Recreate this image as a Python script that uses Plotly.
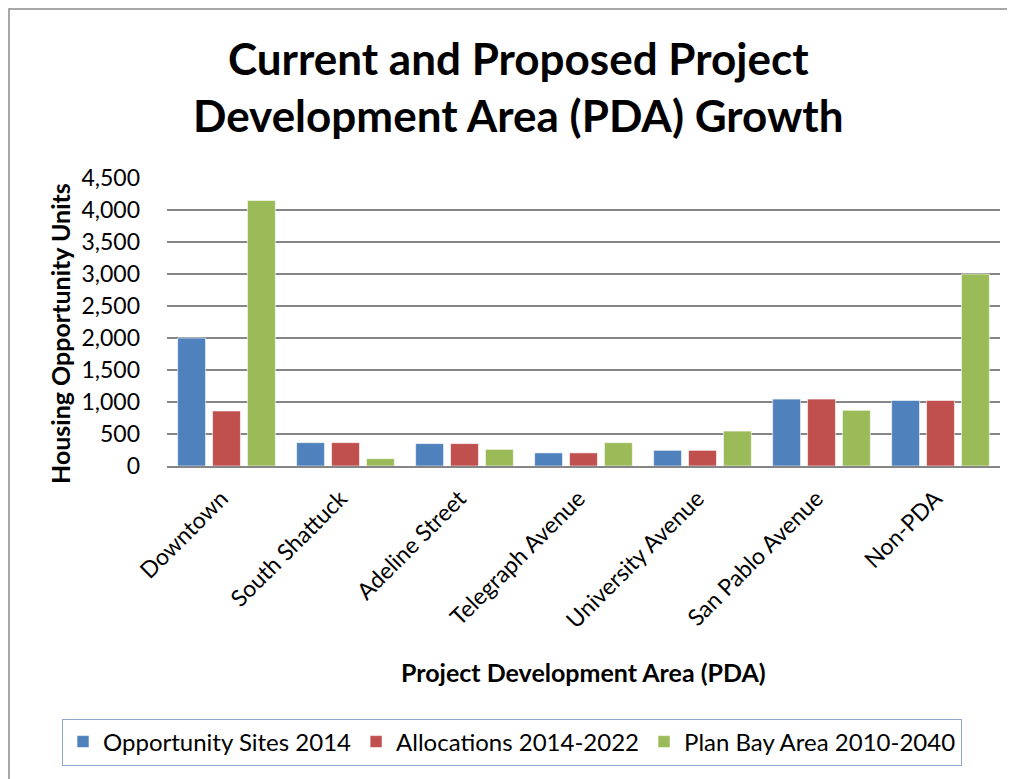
import plotly.graph_objects as go

categories = ["Downtown", "South Shattuck", "Adeline Street", "Telegraph Avenue",
              "University Avenue", "San Pablo Avenue", "Non-PDA"]
opportunity_sites_2014 = [2000, 365, 350, 205, 245, 1045, 1025]
allocations_2014_2022 = [860, 365, 350, 205, 245, 1045, 1025]
plan_bay_area_2010_2040 = [4150, 115, 260, 365, 545, 870, 3000]
series_names = ["Opportunity Sites 2014", "Allocations 2014-2022", "Plan Bay Area 2010-2040"]
y_ticks = [0, 500, 1000, 1500, 2000, 2500, 3000, 3500, 4000, 4500]

colors = ["#4F81BD", "#C0504D", "#9BBB59"]
FONT = "Lato"

# the page body adds an 8px offset; target positions are given in screenshot pixels
D = 8
W, H = 1015 - D, 779 - D
L, R, T, B = 167 - D, 1000 - D, 178 - D, 466 - D

fig = go.Figure()
for name, vals, c in zip(series_names,
                         [opportunity_sites_2014, allocations_2014_2022, plan_bay_area_2010_2040],
                         colors):
    fig.add_trace(go.Bar(x=categories, y=vals, name=name,
                         marker=dict(color=c, line=dict(color="rgba(255,255,255,0.6)", width=1))))

def px_x(p):
    return (p - D - L) / (R - L)

def px_y(p):
    return (B - (p - D)) / (B - T)

fig.update_layout(
    width=W, height=H,
    margin=dict(l=L, r=W - R, t=T, b=H - B, pad=0, autoexpand=False),
    paper_bgcolor="white", plot_bgcolor="white",
    font=dict(family=FONT, color="black", size=23),
    barmode="group", bargap=0.12, bargroupgap=0.2,
    xaxis=dict(tickangle=-45, showgrid=False, showline=True, linecolor="#868686", linewidth=2,
               ticks="", ticklabelstandoff=8, ticklabelshift=-5, automargin=False,
               tickfont=dict(family=FONT, size=23, color="black")),
    yaxis=dict(range=[0, 4500], tickvals=y_ticks, tickformat=",d", automargin=False,
               showgrid=True, gridcolor="#868686", gridwidth=2, zeroline=False,
               showline=False, ticks="", ticklabelstandoff=26,
               tickfont=dict(family=FONT, size=23, color="black")),
    legend=dict(orientation="h", x=px_x(62), xanchor="left", y=px_y(742), yanchor="middle",
                bordercolor="#8EA9C8", borderwidth=1, bgcolor="white",
                font=dict(family=FONT, size=24, color="black"),
                itemwidth=30, traceorder="normal"),
    showlegend=True,
)

fig.add_annotation(text="<b>Current and Proposed Project<br>Development Area (PDA) Growth</b>",
                   xref="paper", yref="paper", x=px_x(518), xanchor="center",
                   y=px_y(30), yanchor="top", showarrow=False,
                   font=dict(family=FONT, size=44, color="black"))
fig.add_annotation(text="<b>Housing Opportunity Units</b>", textangle=-90,
                   xref="paper", yref="paper", x=px_x(60), xanchor="center",
                   y=px_y(334), yanchor="middle", showarrow=False,
                   font=dict(family=FONT, size=25, color="black"))
fig.add_annotation(text="<b>Project Development Area (PDA)</b>",
                   xref="paper", yref="paper", x=px_x(583), xanchor="center",
                   y=px_y(672), yanchor="middle", showarrow=False,
                   font=dict(family=FONT, size=25, color="black"))

# chart outer border
fig.add_shape(type="rect", xref="paper", yref="paper",
              x0=px_x(9), x1=px_x(1025), y0=px_y(790), y1=px_y(9),
              line=dict(color="#8C8C8C", width=1.5), fillcolor="rgba(0,0,0,0)", layer="below")

fig.write_html("out.html")
